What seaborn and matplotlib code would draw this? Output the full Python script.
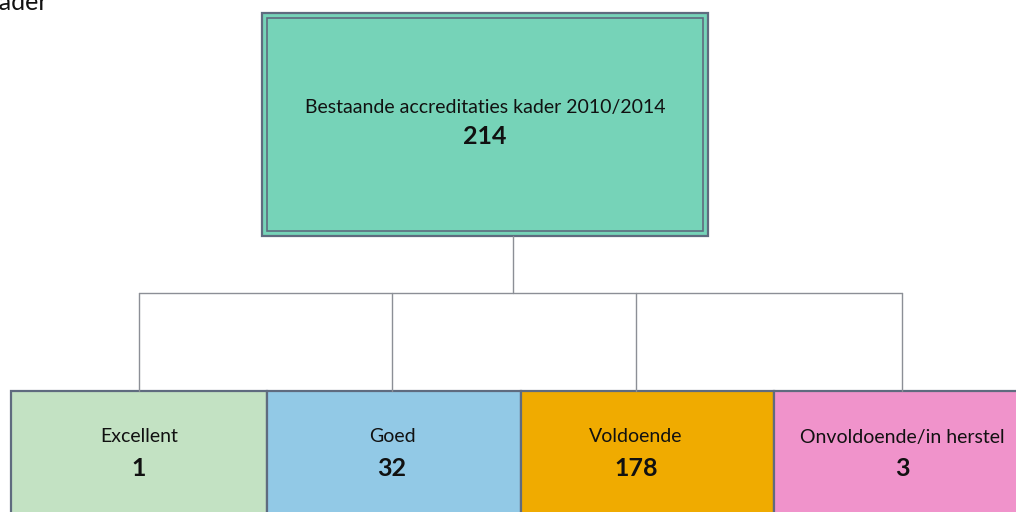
import matplotlib
matplotlib.use("Agg")
import matplotlib.pyplot as plt
import matplotlib.patches as mpatches
import seaborn as sns

sns.set_theme(style="white")
plt.rcParams["font.family"] = ["Lato", "DejaVu Sans"]

# ── Data ──────────────────────────────────────────────────
top_label = "Bestaande accreditaties kader 2010/2014"
top_value = 214
categories = ["Excellent", "Goed", "Voldoende", "Onvoldoende/in herstel"]
values = [1, 32, 178, 3]

# ── Layout (pixel coordinates) ───────────────────────────
TOP_COLOR = "#76D3B8"
BOX_COLORS = ["#C3E2C3", "#92C9E6", "#F0AB00", "#F093CB"]
EDGE = "#5F6B7F"
LINE = "#8C8F96"
TXT = "#111111"
box_edges = [11, 267, 521, 774, 1030]
drop_x = [139, 392, 636, 902]

fig = plt.figure(figsize=(10.16, 5.12), dpi=100)
ax = fig.add_axes([0, 0, 1, 1])
ax.set_xlim(0, 1016)
ax.set_ylim(512, 0)
ax.axis("off")

# top box with double border
ax.add_patch(mpatches.Rectangle((262, 13), 446, 223, facecolor=TOP_COLOR,
                                edgecolor=EDGE, linewidth=1.6))
ax.add_patch(mpatches.Rectangle((267, 18), 436, 213, facecolor="none",
                                edgecolor=EDGE, linewidth=1.2))
ax.text(485, 107, top_label, ha="center", va="center", fontsize=14, color=TXT)
ax.text(485, 137, f"{top_value}", ha="center", va="center", fontsize=18,
        fontweight="bold", color=TXT)

# connectors
ax.plot([513, 513], [236, 293], color=LINE, linewidth=1)
ax.plot([drop_x[0], drop_x[-1]], [293, 293], color=LINE, linewidth=1)
for x in drop_x:
    ax.plot([x, x], [293, 391], color=LINE, linewidth=1)

# bottom boxes
for i, (cat, val) in enumerate(zip(categories, values)):
    left, right = box_edges[i], box_edges[i + 1]
    ax.add_patch(mpatches.Rectangle((left, 391), right - left, 140,
                                    facecolor=BOX_COLORS[i], edgecolor=EDGE,
                                    linewidth=1.6))
    ax.text(drop_x[i], 437, cat, ha="center", va="center", fontsize=14,
            color=TXT)
    ax.text(drop_x[i], 468, f"{val}", ha="center", va="center", fontsize=18,
            fontweight="bold", color=TXT)

# clipped heading fragment at top-left (cut off in the reference too)
ax.text(48, 10, "kader", ha="right", va="baseline", fontsize=18, color=TXT)

fig.savefig("out.png", dpi=100)
